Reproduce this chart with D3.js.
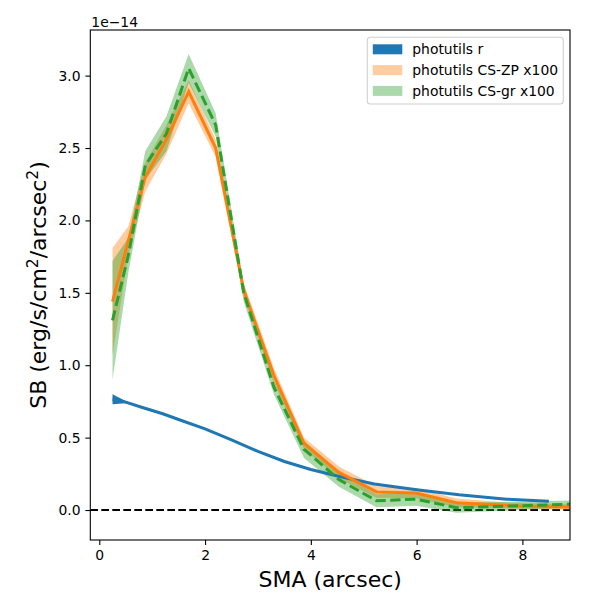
<!DOCTYPE html>
<html>
<head>
<meta charset="utf-8">
<script src="https://cdn.jsdelivr.net/npm/d3@7"></script>
<style>
  body { margin: 0; background: #fff; }
  text { font-family: "DejaVu Sans", sans-serif; }
</style>
</head>
<body>
<div id="my_dataviz"></div>
<script>
// data (SB in units of 1e-14)
var smaR   = [0.25, 0.5, 0.8, 1.2, 1.5, 2.0, 2.5, 3.0, 3.5, 4.0, 4.5, 5.2, 6.0, 6.8, 7.7, 8.5];
var sbR    = [0.765, 0.745, 0.71, 0.665, 0.625, 0.56, 0.485, 0.405, 0.335, 0.28, 0.235, 0.18, 0.14, 0.105, 0.075, 0.06];
var sbRErr = [0.035, 0.008, 0.005, 0.004, 0.004, 0.004, 0.003, 0.003, 0.003, 0.003, 0.003, 0.003, 0.003, 0.003, 0.003, 0.003];

var smaCS   = [0.25, 0.55, 0.87, 1.27, 1.69, 2.2, 2.73, 3.3, 3.87, 4.53, 5.24, 5.99, 6.75, 7.8, 8.9];
var sbZP    = [1.44, 1.86, 2.3, 2.56, 2.89, 2.5, 1.52, 0.93, 0.46, 0.26, 0.125, 0.117, 0.05, 0.03, 0.02];
var sbZPErr = [0.37, 0.1, 0.1, 0.1, 0.08, 0.06, 0.05, 0.05, 0.04, 0.04, 0.04, 0.035, 0.03, 0.02, 0.02];
var sbGR    = [1.31, 1.76, 2.38, 2.6, 3.05, 2.66, 1.5, 0.85, 0.42, 0.21, 0.064, 0.075, 0.016, 0.028, 0.04];
var sbGRErr = [0.41, 0.12, 0.1, 0.12, 0.1, 0.08, 0.06, 0.05, 0.06, 0.05, 0.045, 0.045, 0.035, 0.03, 0.025];

var xTicks = [0, 2, 4, 6, 8];
var yTicks = [0.0, 0.5, 1.0, 1.5, 2.0, 2.5, 3.0];
var legendLabels = ["photutils r", "photutils CS-ZP x100", "photutils CS-gr x100"];

// dimensions
var W = 600, H = 600;
var margin = {top: 30, right: 30, bottom: 60, left: 90.3},
    width = W - margin.left - margin.right,
    height = H - margin.top - margin.bottom;

var svg = d3.select("#my_dataviz")
  .append("svg")
    .attr("width", W)
    .attr("height", H);

var g = svg.append("g")
    .attr("transform", "translate(" + margin.left + "," + margin.top + ")");

var x = d3.scaleLinear().domain([-0.17, 8.9]).range([0, width]);
var y = d3.scaleLinear().domain([-0.207, 3.315]).range([height, 0]);

g.append("clipPath").attr("id", "clip")
  .append("rect").attr("width", width).attr("height", height);

var plot = g.append("g").attr("clip-path", "url(#clip)");

function band(xs, m, e) {
  return d3.area()
    .x(function(d, i) { return x(xs[i]); })
    .y0(function(d, i) { return y(m[i] - e[i]); })
    .y1(function(d, i) { return y(m[i] + e[i]); })(m);
}
function line(xs, m) {
  return d3.line()
    .x(function(d, i) { return x(xs[i]); })
    .y(function(d) { return y(d); })(m);
}

// zero line
plot.append("line")
  .attr("x1", 0).attr("x2", width)
  .attr("y1", y(0)).attr("y2", y(0))
  .attr("stroke", "#000").attr("stroke-width", 2)
  .attr("stroke-dasharray", "7.7,3.3");

// bands
plot.append("path").attr("d", band(smaR, sbR, sbRErr))
  .attr("fill", "#1f77b4");
plot.append("path").attr("d", band(smaCS, sbZP, sbZPErr))
  .attr("fill", "#ff7f0e").attr("fill-opacity", 0.4);
plot.append("path").attr("d", band(smaCS, sbGR, sbGRErr))
  .attr("fill", "#2ca02c").attr("fill-opacity", 0.4);

// lines
plot.append("path").attr("d", line(smaR, sbR))
  .attr("fill", "none").attr("stroke", "#1f77b4").attr("stroke-width", 3);
plot.append("path").attr("d", line(smaCS, sbZP))
  .attr("fill", "none").attr("stroke", "#ff7f0e").attr("stroke-width", 3);
plot.append("path").attr("d", line(smaCS, sbGR))
  .attr("fill", "none").attr("stroke", "#2ca02c").attr("stroke-width", 3)
  .attr("stroke-dasharray", "10.3,4.5");

// axes
var xAxis = g.append("g")
  .attr("transform", "translate(0," + height + ")")
  .call(d3.axisBottom(x).tickValues(xTicks).tickFormat(d3.format("d")).tickSize(4.9).tickPadding(4.9));
var yAxis = g.append("g")
  .call(d3.axisLeft(y).tickValues(yTicks).tickFormat(d3.format(".1f")).tickSize(4.9).tickPadding(4.9));
[xAxis, yAxis].forEach(function(a) {
  a.select(".domain").remove();
  a.selectAll("line").attr("stroke", "#000").attr("stroke-width", 1.1);
  a.selectAll("text").attr("font-size", "13.9px").attr("fill", "#000")
    .style("font-family", "DejaVu Sans");
});

// frame
g.append("rect")
  .attr("width", width).attr("height", height)
  .attr("fill", "none").attr("stroke", "#000").attr("stroke-width", 1.1);

// offset text
svg.append("text")
  .attr("x", margin.left + 1).attr("y", 26.5)
  .attr("font-size", "13.9px")
  .text("1e\u221214");

// axis labels
svg.append("text")
  .attr("x", margin.left + width / 2).attr("y", 587)
  .attr("text-anchor", "middle")
  .attr("font-size", "22px")
  .text("SMA (arcsec)");

var yl = svg.append("text")
  .attr("transform", "translate(46," + (margin.top + height / 2) + ")rotate(-90)")
  .attr("text-anchor", "middle")
  .attr("font-size", "22px");
yl.append("tspan").text("SB (erg/s/cm");
yl.append("tspan").attr("dy", -8).attr("font-size", "15.5px").text("2");
yl.append("tspan").attr("dy", 8).text("/arcsec");
yl.append("tspan").attr("dy", -8).attr("font-size", "15.5px").text("2");
yl.append("tspan").attr("dy", 8).text(")");

// legend
var legendColors = [
  {c: "#1f77b4", o: 1},
  {c: "#ff7f0e", o: 0.4},
  {c: "#2ca02c", o: 0.4}
];
var leg = svg.append("g").attr("transform", "translate(367.3,37.3)");
leg.append("rect")
  .attr("width", 196).attr("height", 66.7)
  .attr("rx", 3).attr("ry", 3)
  .attr("fill", "#fff").attr("fill-opacity", 0.8)
  .attr("stroke", "#d0d0d0").attr("stroke-width", 1.1);
var items = leg.selectAll("g.item")
  .data(legendLabels)
  .enter().append("g")
    .attr("class", "item")
    .attr("transform", function(d, i) { return "translate(0," + (12 + i * 20.8) + ")"; });
items.append("rect")
  .attr("x", 5.5).attr("y", -5)
  .attr("width", 29.5).attr("height", 10)
  .attr("fill", function(d, i) { return legendColors[i].c; })
  .attr("fill-opacity", function(d, i) { return legendColors[i].o; });
items.append("text")
  .attr("x", 45).attr("y", 5)
  .attr("font-size", "13.9px")
  .text(function(d) { return d; });
</script>
</body>
</html>
